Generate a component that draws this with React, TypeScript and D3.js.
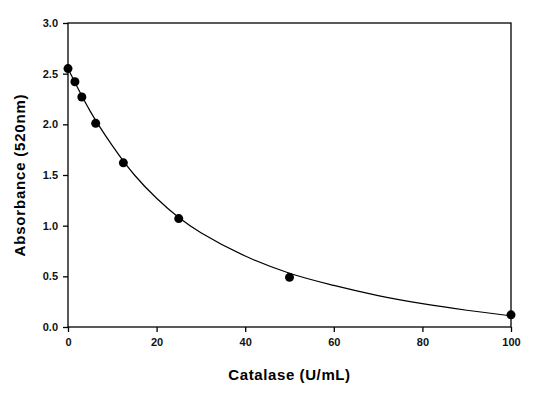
import React, { useEffect, useRef } from 'react';
import * as d3 from 'd3';

// measured points
const catalase = [0, 1.5625, 3.125, 6.25, 12.5, 25, 50, 100];
const absorbance = [2.55, 2.42, 2.27, 2.01, 1.62, 1.07, 0.49, 0.12];

// fitted curve
const curveX = [0, 5, 10, 15, 20, 25, 30, 40, 50, 60, 70, 80, 90, 100];
const curveY = [2.55, 2.13, 1.79, 1.5, 1.27, 1.08, 0.93, 0.7, 0.53, 0.41, 0.31, 0.23, 0.165, 0.11];

const xTicks = [0, 20, 40, 60, 80, 100];
const yTicks = [0, 0.5, 1.0, 1.5, 2.0, 2.5, 3.0];

const App: React.FC = () => {
  const ref = useRef<SVGSVGElement | null>(null);

  useEffect(() => {
    const svg = d3.select(ref.current);
    svg.selectAll('*').remove();

    const left = 68, right = 511, top = 23, bottom = 327;
    const font = '"Liberation Sans", Arial, sans-serif';

    const x = d3.scaleLinear().domain([0, 100]).range([left, right]);
    const y = d3.scaleLinear().domain([0, 3]).range([bottom, top]);

    // frame
    svg.append('rect')
      .attr('x', left).attr('y', top)
      .attr('width', right - left).attr('height', bottom - top)
      .attr('fill', 'none').attr('stroke', '#000').attr('stroke-width', 1.3);

    const xAxis = svg.append('g')
      .attr('transform', `translate(0,${bottom})`)
      .call(d3.axisBottom(x).tickValues(xTicks).tickSize(5).tickPadding(6).tickFormat(d3.format('d')));
    const yAxis = svg.append('g')
      .attr('transform', `translate(${left},0)`)
      .call(d3.axisLeft(y).tickValues(yTicks).tickSize(5).tickPadding(5).tickFormat(d3.format('.1f')));

    [xAxis, yAxis].forEach((g) => {
      g.select('.domain').remove();
      g.selectAll('line').attr('stroke', '#000').attr('stroke-width', 1.3);
      g.selectAll('text')
        .attr('fill', '#111')
        .style('font-family', font)
        .style('font-size', '11px')
        .style('font-weight', 'bold');
    });

    const line = d3.line<number>()
      .x((d, i) => x(curveX[i]))
      .y((d) => y(d))
      .curve(d3.curveCatmullRom.alpha(0.5));

    svg.append('path')
      .attr('d', line(curveY))
      .attr('fill', 'none')
      .attr('stroke', '#000')
      .attr('stroke-width', 1.2);

    svg.selectAll('.dot')
      .data(absorbance)
      .enter()
      .append('circle')
      .attr('class', 'dot')
      .attr('cx', (d, i) => x(catalase[i]))
      .attr('cy', (d) => y(d))
      .attr('r', 4.5)
      .attr('fill', '#000');

    svg.append('text')
      .attr('x', (left + right) / 2)
      .attr('y', 380)
      .attr('text-anchor', 'middle')
      .style('font-family', font)
      .style('font-size', '15px')
      .style('font-weight', 'bold')
      .style('letter-spacing', '0.6px')
      .text('Catalase (U/mL)');

    svg.append('text')
      .attr('transform', `translate(25,${(top + bottom) / 2}) rotate(-90)`)
      .attr('text-anchor', 'middle')
      .style('font-family', font)
      .style('font-size', '15px')
      .style('font-weight', 'bold')
      .style('letter-spacing', '0.8px')
      .text('Absorbance (520nm)');
  }, []);

  return (
    <svg
      ref={ref}
      width={539}
      height={393}
      style={{ position: 'absolute', left: 0, top: 0, background: '#fff' }}
    />
  );
};

export default App;
